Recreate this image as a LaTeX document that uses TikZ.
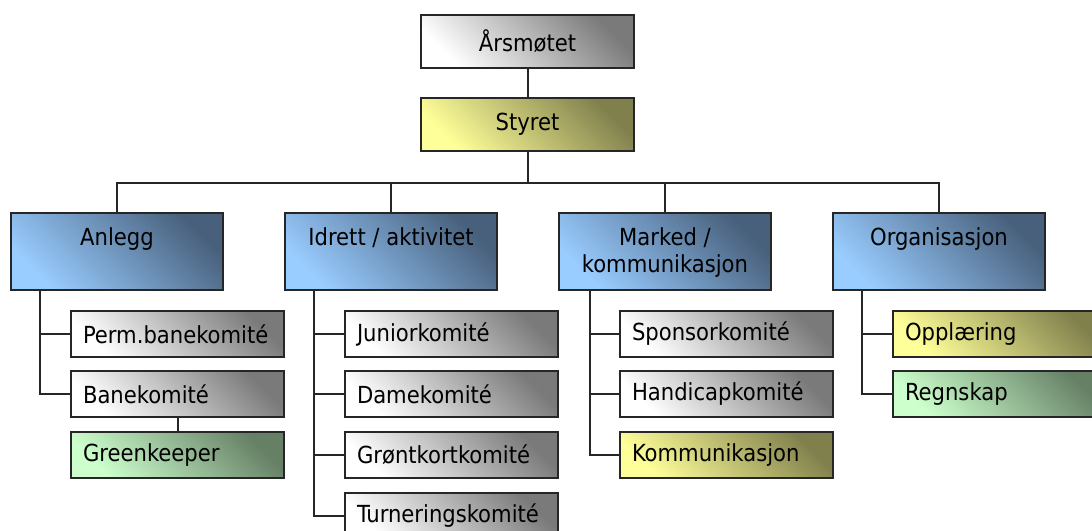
\documentclass[tikz,border=0pt]{standalone}
\usepackage{fontspec}
\setmainfont{DejaVu Sans Condensed}
\begin{document}
\begin{tikzpicture}[x=1pt,y=-1pt,
  box/.style={draw=black!85, line width=2pt, rectangle, inner sep=0pt, shading=axis, font=\fontsize{23.5}{27}\selectfont},
  gray/.style={top color=black!52, bottom color=white, shading angle=-45},
  yel/.style={top color={rgb,255:red,128;green,128;blue,77}, bottom color={rgb,255:red,255;green,255;blue,153}, shading angle=-45},
  blu/.style={top color={rgb,255:red,72;green,96;blue,124}, bottom color={rgb,255:red,153;green,204;blue,255}, shading angle=-45},
  grn/.style={top color={rgb,255:red,102;green,128;blue,102}, bottom color={rgb,255:red,204;green,255;blue,204}, shading angle=-45},
  top/.style={box, anchor=north west, minimum width=213pt, minimum height=53pt},
  mid/.style={box, blu, anchor=north west, minimum width=212pt, minimum height=77pt},
  midtext/.style={anchor=north, yshift=-15pt, align=center, font=\fontsize{23.5}{27}\selectfont, inner sep=0pt},
  sub/.style={box, anchor=north west, minimum width=213pt, minimum height=46pt, text width=189pt, align=left, inner xsep=12pt},
  conn/.style={line width=2pt, black!85}
]
\useasboundingbox (0,0) rectangle (1092,530);
\clip (0,0) rectangle (1092,530);

\node[top, gray] (ars) at (420,14) {Årsmøtet};
\node[top, yel] (styret) at (420,97) {Styret};

\node[mid] (anlegg) at (10,212) {};
\node[midtext] at (anlegg.north) {Anlegg};
\node[mid] (idrett) at (284,212) {};
\node[midtext] at (idrett.north) {Idrett / aktivitet};
\node[mid] (marked) at (558,212) {};
\node[midtext] at (marked.north) {Marked /\\kommunikasjon};
\node[mid] (org) at (832,212) {};
\node[midtext] at (org.north) {Organisasjon};

\node[sub, gray] (perm) at (70,310) {Perm.banekomité};
\node[sub, gray] (bane) at (70,370) {Banekomité};
\node[sub, grn] (green) at (70,431) {Greenkeeper};

\node[sub, gray] (junior) at (344,310) {Juniorkomité};
\node[sub, gray] (dame) at (344,370) {Damekomité};
\node[sub, gray] (gront) at (344,431) {Grøntkortkomité};
\node[sub, gray] (turn) at (344,492) {Turneringskomité};

\node[sub, gray] (sponsor) at (619,310) {Sponsorkomité};
\node[sub, gray] (handicap) at (619,370) {Handicapkomité};
\node[sub, yel] (komm) at (619,431) {Kommunikasjon};

\node[sub, yel] (opp) at (892,310) {Opplæring};
\node[sub, grn] (regn) at (892,370) {Regnskap};

\draw[conn] (ars.south) -- (styret.north);
\coordinate (bus) at ([yshift=-31pt]styret.south);
\draw[conn] (styret.south) -- (bus) -| (anlegg.north);
\draw[conn] (bus) -| (idrett.north);
\draw[conn] (bus) -| (marked.north);
\draw[conn] (bus) -| (org.north);

\draw[conn] ([xshift=30pt]anlegg.south west) |- (perm.west);
\draw[conn] ([xshift=30pt]anlegg.south west) |- (bane.west);
\draw[conn] (bane.south) -- (green.north);

\draw[conn] ([xshift=30pt]idrett.south west) |- (junior.west);
\draw[conn] ([xshift=30pt]idrett.south west) |- (dame.west);
\draw[conn] ([xshift=30pt]idrett.south west) |- (gront.west);
\draw[conn] ([xshift=30pt]idrett.south west) |- (turn.west);

\draw[conn] ([xshift=32pt]marked.south west) |- (sponsor.west);
\draw[conn] ([xshift=32pt]marked.south west) |- (handicap.west);
\draw[conn] ([xshift=32pt]marked.south west) |- (komm.west);

\draw[conn] ([xshift=30pt]org.south west) |- (opp.west);
\draw[conn] ([xshift=30pt]org.south west) |- (regn.west);
\end{tikzpicture}
\end{document}
